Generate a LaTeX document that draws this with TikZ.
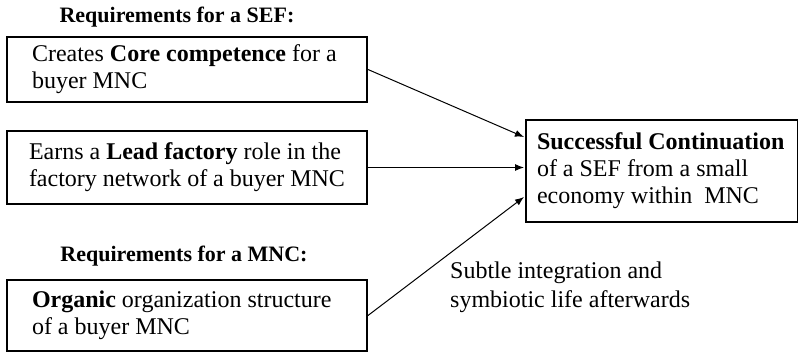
\documentclass[tikz,border=0pt]{standalone}
\usepackage{fontspec}
\setmainfont{Liberation Serif}
\usetikzlibrary{arrows.meta,calc}
\begin{document}
\begin{tikzpicture}[x=1pt,y=1pt,
  box/.style={draw,line width=2pt,rectangle,align=flush left,anchor=north west,inner ysep=0pt,
    font=\fontsize{24}{27}\selectfont},
  head/.style={font=\fontsize{22}{26}\selectfont\bfseries},
  conn/.style={line width=1pt,-{Latex[length=9pt,width=7pt]}}]
\useasboundingbox (0,0) rectangle (798,351);
\node[head] (h1) at (177,334) {Requirements for a SEF:};
\node[box,minimum width=360,minimum height=65,text width=310,inner xsep=25] (b1) at (6,315) {Creates \textbf{Core competence} for a\\buyer MNC};
\node[box,minimum width=360,minimum height=73,text width=316,inner xsep=22] (b2) at (6,221) {Earns a \textbf{Lead factory} role in the\\factory network of a buyer MNC};
\node[head] (h2) at (184,95) {Requirements for a MNC:};
\node[box,minimum width=360,minimum height=71,text width=310,inner xsep=25] (b3) at (6,72) {\textbf{Organic} organization structure\\of a buyer MNC};
\node[box,minimum width=272,minimum height=102,text width=250,inner xsep=11] (t) at (525,232) {\textbf{Successful Continuation}\\of a SEF from a small\\economy within\ \ MNC\par\vspace{6pt}};
\node[anchor=north west,align=left,inner sep=0pt,font=\fontsize{24}{29}\selectfont] (lab) at (450,89) {Subtle integration and\\symbiotic life afterwards};
\draw[conn] (b1.east) -- ($(t.north west)+(-1,-18)$);
\draw[conn] (b2.east) -- ($(b2.east -| t.west)+(-1,0)$);
\draw[conn] (b3.east) -- ($(t.south west)+(-1,26)$);
\end{tikzpicture}
\end{document}
